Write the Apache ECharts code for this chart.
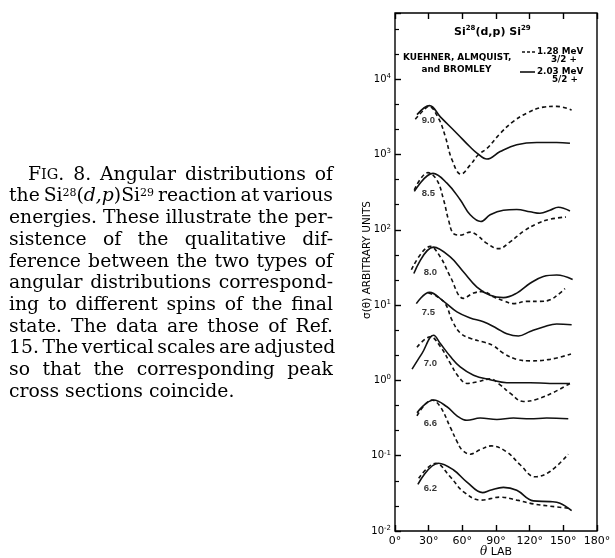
<!DOCTYPE html>
<html>
<head>
<meta charset="UTF-8">
<title>Si28(d,p)Si29 angular distributions</title>
<script src="https://cdn.jsdelivr.net/npm/echarts@6/dist/echarts.min.js"></script>
<style>html,body{margin:0;padding:0;background:#fff;}</style>
</head>
<body>
<div id="main" style="width:615px;height:558px;"></div>
<script type="text/javascript">
    // [theta (deg lab), log10 sigma (arbitrary units)]
    var e90Dash = [[18.1, 3.47], [25.5, 3.59], [30.0, 3.64], [38.8, 3.48], [44.8, 3.24], [50.8, 2.93], [58.8, 2.74], [67.0, 2.86], [74.4, 3.00], [81.9, 3.08], [93.7, 3.28], [105.5, 3.44], [117.4, 3.55], [132.2, 3.63], [144.1, 3.64], [157.4, 3.59]];
    var e90Solid = [[19.6, 3.53], [30.8, 3.65], [40.4, 3.50], [55.2, 3.28], [67.0, 3.10], [73.0, 3.02], [81.9, 2.94], [93.7, 3.04], [108.5, 3.13], [126.3, 3.16], [144.1, 3.16], [155.9, 3.15]];
    var e85Dash = [[17.2, 2.53], [29.4, 2.76], [37.4, 2.66], [43.3, 2.40], [47.7, 2.13], [52.2, 1.95], [58.1, 1.93], [67.0, 1.97], [73.0, 1.93], [81.9, 1.82], [92.2, 1.75], [102.6, 1.84], [114.4, 1.98], [126.3, 2.08], [138.1, 2.14], [152.3, 2.17]];
    var e85Solid = [[17.2, 2.51], [33.9, 2.75], [46.3, 2.62], [58.1, 2.40], [67.0, 2.20], [76.5, 2.11], [84.8, 2.20], [96.6, 2.26], [108.5, 2.27], [120.4, 2.24], [129.2, 2.22], [138.1, 2.26], [145.5, 2.30], [155.9, 2.25]];
    var e80Dash = [[14.6, 1.47], [31.5, 1.78], [40.4, 1.64], [49.2, 1.38], [61.1, 1.09], [70.0, 1.16], [78.8, 1.18], [87.7, 1.11], [96.6, 1.06], [105.5, 1.02], [117.4, 1.05], [129.2, 1.05], [138.1, 1.07], [147.0, 1.16], [151.5, 1.22]];
    var e80Solid = [[16.8, 1.42], [34.4, 1.77], [49.2, 1.64], [61.1, 1.44], [73.0, 1.24], [84.8, 1.13], [96.6, 1.10], [108.5, 1.16], [120.4, 1.29], [132.2, 1.38], [144.1, 1.40], [158.3, 1.34]];
    var e75Dash = [[29.7, 1.16], [36.8, 1.12], [44.8, 1.02], [50.8, 0.80], [58.1, 0.63], [67.0, 0.56], [78.8, 0.51], [87.7, 0.46], [96.6, 0.36], [108.5, 0.28], [120.4, 0.26], [138.1, 0.28], [156.8, 0.35]];
    var e75Solid = [[19.0, 1.02], [30.8, 1.17], [43.3, 1.05], [55.2, 0.91], [67.0, 0.83], [78.8, 0.78], [90.8, 0.69], [99.6, 0.62], [110.0, 0.59], [120.4, 0.65], [132.2, 0.71], [144.1, 0.75], [157.4, 0.74]];
    var e70Dash = [[19.6, 0.44], [31.5, 0.58], [40.4, 0.45], [49.2, 0.23], [56.6, 0.05], [64.1, -0.04], [73.0, -0.02], [84.8, 0.02], [93.7, -0.06], [102.6, -0.17], [114.4, -0.28], [126.3, -0.25], [141.1, -0.16], [155.9, -0.04]];
    var e70Solid = [[15.2, 0.15], [24.1, 0.36], [34.4, 0.60], [40.4, 0.49], [49.2, 0.32], [58.1, 0.18], [70.0, 0.07], [84.8, 0.01], [99.6, -0.03], [120.4, -0.03], [138.1, -0.04], [155.9, -0.04]];
    var e66Dash = [[19.6, -0.47], [33.0, -0.26], [40.4, -0.35], [49.2, -0.62], [55.2, -0.81], [59.6, -0.92], [67.0, -0.98], [75.9, -0.92], [85.7, -0.87], [99.6, -0.95], [111.5, -1.12], [124.8, -1.28], [138.1, -1.21], [154.4, -0.98]];
    var e66Solid = [[19.6, -0.43], [34.4, -0.26], [46.3, -0.35], [55.2, -0.47], [64.1, -0.53], [75.9, -0.50], [90.8, -0.52], [105.5, -0.50], [120.4, -0.51], [135.2, -0.50], [154.4, -0.51]];
    var e62Dash = [[21.1, -1.30], [36.4, -1.10], [49.2, -1.28], [61.1, -1.48], [76.8, -1.59], [93.7, -1.55], [108.5, -1.59], [123.3, -1.64], [138.1, -1.67], [155.9, -1.70]];
    var e62Solid = [[20.4, -1.38], [38.8, -1.10], [52.2, -1.19], [64.1, -1.35], [78.1, -1.49], [84.8, -1.46], [96.6, -1.42], [108.5, -1.46], [123.3, -1.60], [138.1, -1.61], [147.0, -1.63], [157.4, -1.73]];

    // deuteron energies (MeV) and where their numbers sit
    var energies = ['9.0', '8.5', '8.0', '7.5', '7.0', '6.6', '6.2'];
    var energyLabelPos = [[29.7, 3.46], [29.7, 2.49], [31.5, 1.43], [29.7, 0.90], [31.5, 0.23], [31.5, -0.57], [31.5, -1.44]];

    var captionLines = [
        '{ind|\u00a0}F{sc|IG}. 8. Angular distributions of',
        'the Si{sup|28}({it|d,p})Si{sup|29} reaction at various',
        'energies. These illustrate the per-',
        'sistence of the qualitative dif-',
        'ference between the two types of',
        'angular distributions correspond-',
        'ing to different spins of the final',
        'state. The data are those of Ref.',
        '15. The vertical scales are adjusted',
        'so that the corresponding peak',
        'cross sections coincide.'
    ];

    var curves = [
        [e90Dash, e90Solid], [e85Dash, e85Solid], [e80Dash, e80Solid], [e75Dash, e75Solid],
        [e70Dash, e70Solid], [e66Dash, e66Solid], [e62Dash, e62Solid]
    ];

    var SANS = 'DejaVu Sans';
    var SERIF = 'DejaVu Serif';

    // caption block: justified by hand with sized gap tokens
    var CAP_SIZE = 18.8, CAP_LEFT = 9, CAP_RIGHT = 333, CAP_TOP = 164, CAP_LH = 21.7;
    var capStyles = {
        ind: {width: 19},
        sc: {fontSize: 14.5},
        sup: {fontSize: 11, verticalAlign: 'top', padding: [2, 0, 0, 0]},
        it: {fontStyle: 'italic'}
    };
    var measureCtx = document.createElement('canvas').getContext('2d');

    function tokenWidth(styleName, txt) {
        var s = capStyles[styleName] || {};
        if (s.width) return s.width;
        measureCtx.font = (s.fontStyle || 'normal') + ' ' + (s.fontSize || CAP_SIZE) + 'px "' + SERIF + '"';
        return measureCtx.measureText(txt).width;
    }

    function wordWidth(w) {
        var re = /\{(\w+)\|([^}]*)\}|([^{]+)/g, m, sum = 0;
        while ((m = re.exec(w))) {
            sum += m[1] ? tokenWidth(m[1], m[2]) : tokenWidth('', m[3]);
        }
        return sum;
    }

    var capRich = {};
    Object.keys(capStyles).forEach(function (k) {
        var s = capStyles[k];
        capRich[k] = {
            fontFamily: SERIF,
            fontSize: s.fontSize || CAP_SIZE,
            fontStyle: s.fontStyle || 'normal',
            lineHeight: CAP_LH,
            color: '#000'
        };
        if (s.width) capRich[k].width = s.width;
        if (s.verticalAlign) capRich[k].verticalAlign = s.verticalAlign;
        if (s.padding) capRich[k].padding = s.padding;
    });
    var spaceW = tokenWidth('', ' ');
    var captionText = captionLines.map(function (line, i) {
        if (i === captionLines.length - 1) return line;
        var words = line.split(' ');
        var natural = 0;
        words.forEach(function (w) { natural += wordWidth(w); });
        var gap = (CAP_RIGHT - CAP_LEFT - natural) / (words.length - 1);
        if (gap < spaceW * 0.6) gap = spaceW * 0.6;
        capRich['g' + i] = {width: gap, fontFamily: SERIF, fontSize: CAP_SIZE, lineHeight: CAP_LH};
        return words.join('{g' + i + '| }');
    }).join('\n');

    function curve(name, data, dashed) {
        return {
            name: name,
            type: 'line',
            data: data,
            smooth: 0.4,
            symbol: 'none',
            silent: true,
            itemStyle: {color: '#111'},
            lineStyle: {
                color: '#111',
                width: 1.6,
                type: dashed ? [4, 3] : 'solid'
            }
        };
    }

    var series = [];
    for (var i = 0; i < curves.length; i++) {
        series.push(curve('1.28 MeV 3/2+', curves[i][0], true));
        series.push(curve('2.03 MeV 5/2+', curves[i][1], false));
    }
    series.push({
        name: 'energies',
        type: 'scatter',
        symbolSize: 1,
        silent: true,
        itemStyle: {color: 'rgba(0,0,0,0)'},
        data: energies.map(function (e, k) {
            return {name: e, value: energyLabelPos[k]};
        }),
        label: {
            show: true,
            position: 'inside',
            formatter: '{b}',
            color: '#000',
            fontFamily: 'Liberation Sans',
            fontWeight: 'bold',
            fontSize: 9.5
        }
    });

    var legendFont = 'bold 8.8px "DejaVu Sans"';

    var myChart = echarts.init(document.getElementById('main'));
    var option = {
        animation: false,
        backgroundColor: '#fff',
        title: {
            text: '{n|Si}{s|28}{n|(d,p) Si}{s|29}',
            left: 449,
            top: 20,
            textStyle: {
                rich: {
                    n: {fontFamily: SANS, fontSize: 11, color: '#000', lineHeight: 14},
                    s: {fontFamily: SANS, fontSize: 7, color: '#000', lineHeight: 14, verticalAlign: 'top'}
                }
            }
        },
        grid: {
            left: 395,
            top: 13,
            width: 202,
            height: 518,
            outerBoundsMode: 'none',
            containLabel: false,
            show: true,
            borderColor: '#000',
            borderWidth: 1.4
        },
        xAxis: [{
            type: 'value',
            min: 0,
            max: 180,
            interval: 30,
            position: 'bottom',
            axisLine: {show: false, onZero: false},
            axisTick: {inside: true, length: 6, lineStyle: {color: '#000', width: 1.4}},
            splitLine: {show: false},
            axisLabel: {
                margin: 5,
                color: '#000',
                fontFamily: SANS,
                fontSize: 11,
                formatter: function (v) { return v + '°'; }
            },
            name: '{i|θ} LAB',
            nameLocation: 'middle',
            nameGap: 15,
            nameMoveOverlap: false,
            nameTextStyle: {
                color: '#000',
                fontFamily: SANS,
                fontSize: 11,
                rich: {i: {fontFamily: SERIF, fontStyle: 'italic', fontSize: 12, color: '#000'}}
            }
        }, {
            type: 'value',
            min: 0,
            max: 180,
            interval: 30,
            position: 'top',
            axisLine: {show: false, onZero: false},
            axisTick: {inside: true, length: 6, lineStyle: {color: '#000', width: 1.4}},
            axisLabel: {show: false},
            splitLine: {show: false}
        }],
        yAxis: {
            type: 'value',
            min: -2,
            max: 4.88,
            interval: 1,
            axisLine: {show: false, onZero: false},
            axisTick: {inside: true, length: 6, lineStyle: {color: '#000', width: 1.4}},
            minorTick: {show: true, splitNumber: 3, length: 4, lineStyle: {color: '#000', width: 1.2}},
            splitLine: {show: false},
            minorSplitLine: {show: false},
            axisLabel: {
                margin: 4,
                formatter: function (v) {
                    return Number.isInteger(v) ? '{b|10}{s|' + v + '}' : '';
                },
                rich: {
                    b: {fontFamily: SANS, fontSize: 10, color: '#000', lineHeight: 13},
                    s: {fontFamily: SANS, fontSize: 7, color: '#000', lineHeight: 13, verticalAlign: 'top'}
                }
            },
            name: 'σ(θ) ARBITRARY UNITS',
            nameLocation: 'middle',
            nameGap: 22,
            nameMoveOverlap: false,
            nameTextStyle: {
                color: '#000',
                fontFamily: SANS,
                fontSize: 10.5,
                padding: [0, 0, 0, 24]
            }
        },
        graphic: [{
            type: 'text',
            left: 403,
            top: 51,
            style: {
                text: 'KUEHNER, ALMQUIST,\n      and BROMLEY',
                fill: '#000',
                font: 'bold 8.9px "DejaVu Sans"',
                lineHeight: 12.5
            }
        }, {
            type: 'line',
            shape: {x1: 522, y1: 52, x2: 535, y2: 52},
            style: {stroke: '#111', lineWidth: 1.6, lineDash: [3, 2]}
        }, {
            type: 'text', left: 537, top: 47,
            style: {text: '1.28 MeV', fill: '#000', font: legendFont}
        }, {
            type: 'text', left: 551, top: 55,
            style: {text: '3/2 +', fill: '#000', font: legendFont}
        }, {
            type: 'line',
            shape: {x1: 520, y1: 72, x2: 535, y2: 72},
            style: {stroke: '#111', lineWidth: 1.6}
        }, {
            type: 'text', left: 537, top: 67,
            style: {text: '2.03 MeV', fill: '#000', font: legendFont}
        }, {
            type: 'text', left: 552, top: 75.5,
            style: {text: '5/2 +', fill: '#000', font: legendFont}
        }, {
            type: 'text',
            left: CAP_LEFT,
            top: CAP_TOP,
            style: {
                text: captionText,
                fill: '#000',
                font: CAP_SIZE + 'px "' + SERIF + '"',
                lineHeight: CAP_LH,
                rich: capRich
            }
        }],
        series: series
    };

    myChart.setOption(option);
</script>
</body>
</html>
